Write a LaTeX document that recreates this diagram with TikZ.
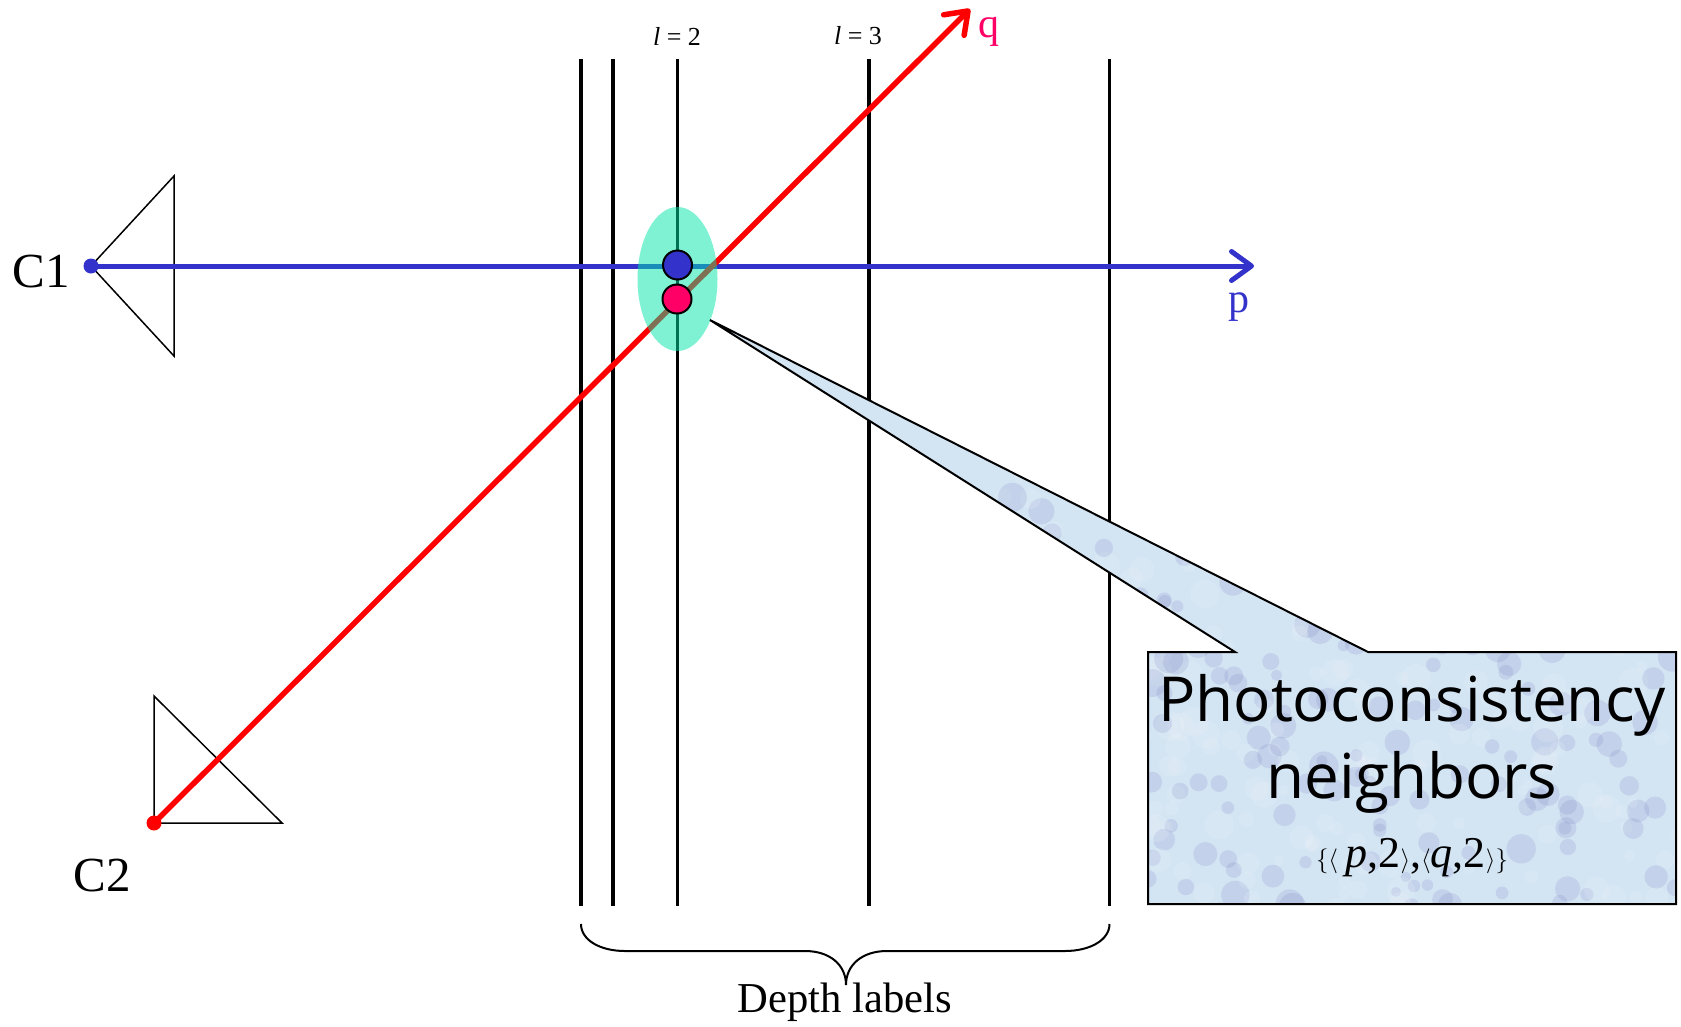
\documentclass[tikz,border=0pt]{standalone}
\usepackage{fontspec}
\setmainfont{Liberation Serif}
\newfontfamily\calloutfont{Open Sans}
\usetikzlibrary{arrows.meta}
\definecolor{rayblue}{HTML}{3333CC}
\definecolor{rayred}{HTML}{FF0000}
\definecolor{labelpink}{HTML}{FF0066}
\definecolor{tealfill}{rgb}{0,0.9,0.66}
\definecolor{calloutfill}{HTML}{D3E4F3}
\newcommand{\fs}[1]{\fontsize{#1}{#1}\selectfont}
\tikzset{
  depthline/.style={line width=3.6pt,black},
  cam/.style={line width=1.5pt,black},
  ray/.style={line width=#1,line cap=butt},
  barb/.style={-{Straight Barb[length=20pt,width=29pt,line cap=round,round]}},
  dot/.style={circle,inner sep=0pt,minimum size=15pt,fill=#1},
  ptc/.style={circle,inner sep=0pt,minimum size=29pt,draw=black,line width=2pt,fill=#1},
  lab/.style={inner sep=0pt,anchor=center},
}
\begin{document}
\begin{tikzpicture}[x=1pt,y=-1pt]
\useasboundingbox (0,0) rectangle (1681,1026);
% depth lines
\foreach \n/\x in {a/581,b/613,c/677.5,d/869,e/1109.5}{
  \coordinate (top\n) at (\x,59);
  \coordinate (bot\n) at (\x,906);
  \draw[depthline] (top\n) -- (bot\n);
}
% cameras
\coordinate (c1a) at (91,266);
\coordinate (c1b) at (174,176);
\coordinate (c1c) at (174,356);
\draw[cam] (c1a) -- (c1b) -- (c1c) -- cycle;
\coordinate (c2a) at (154,823);
\coordinate (c2b) at (154,696);
\coordinate (c2c) at (282,823);
\draw[cam] (c2a) -- (c2b) -- (c2c) -- cycle;
% rays
\coordinate (pend) at (1254,266);
\coordinate (qend) at (970,9);
\draw[ray=5pt,rayblue,barb] (c1a) -- (pend);
\draw[ray=5.5pt,rayred,barb] (c2a) -- (qend);
\node[dot=rayblue] (c1dot) at (c1a) {};
\node[dot=rayred] (c2dot) at (c2a) {};
% ellipse
\fill[tealfill,opacity=0.5] (677.5,279) ellipse [x radius=40,y radius=72];
\node[ptc=rayblue] (pp) at (677.5,265) {};
\node[ptc=labelpink] (qq) at (677,299) {};
% callout
\coordinate (tip) at (710,320);
\begin{scope}
\path[clip] (tip) -- (1368,652) -- (1676,652) -- (1676,904) -- (1148,904) -- (1148,652) -- (1235,652) -- cycle;
\fill[calloutfill] (700,310) rectangle (1680,910);
\pgfmathsetseed{7}
\foreach \i in {1,...,500}{
  \pgfmathsetmacro{\px}{1000+rnd*680}
  \pgfmathsetmacro{\py}{400+rnd*510}
  \pgfmathsetmacro{\rr}{5+rnd*10}
  \pgfmathparse{rnd>0.5?"white":"blue!35!gray"}
  \edef\cc{\pgfmathresult}
  \fill[\cc,opacity=0.12] (\px,\py) circle (\rr);
}
\end{scope}
\draw[line width=2pt,black,line join=miter] (tip) -- (1368,652) -- (1676,652) -- (1676,904) -- (1148,904) -- (1148,652) -- (1235,652) -- cycle;
\node[lab] (t1) at (1412,705) {\calloutfont\fs{62}Photoconsistency};
\node[lab] (t2) at (1412,782) {\calloutfont\fs{62}neighbors};
\node[lab] (t3) at (1412,858) {\fs{44}$\big\{\big\langle$\,\textit{p},2$\big\rangle$,$\big\langle$\textit{q},2$\big\rangle\big\}$};
% brace
\draw[line width=2pt] (bota|-0,924) .. controls +(0,16) and (600,951) .. (625,951) -- (805,951) .. controls (830,951) and (846,965) .. (846,985)
  .. controls (846,965) and (862,951) .. (887,951) -- (1065,951) .. controls (1090,951) and (1109.5,940) .. (bote|-0,924);
% labels
\node[lab] (dl) at (845,1002) {\fs{42.6}Depth labels};
\node[lab] (c1) at (41,272) {\fs{49}C1};
\node[lab] (c2) at (102,876) {\fs{49}C2};
\node[lab,text=rayblue] (pl) at (1239,307) {\fs{42}p};
\node[lab,text=labelpink] (ql) at (989,32) {\fs{42}q};
\node[lab] (l2) at (677,36) {\fs{26}\textit{l} = 2};
\node[lab] (l3) at (858,36) {\fs{26}\textit{l} = 3};
\end{tikzpicture}
\end{document}
